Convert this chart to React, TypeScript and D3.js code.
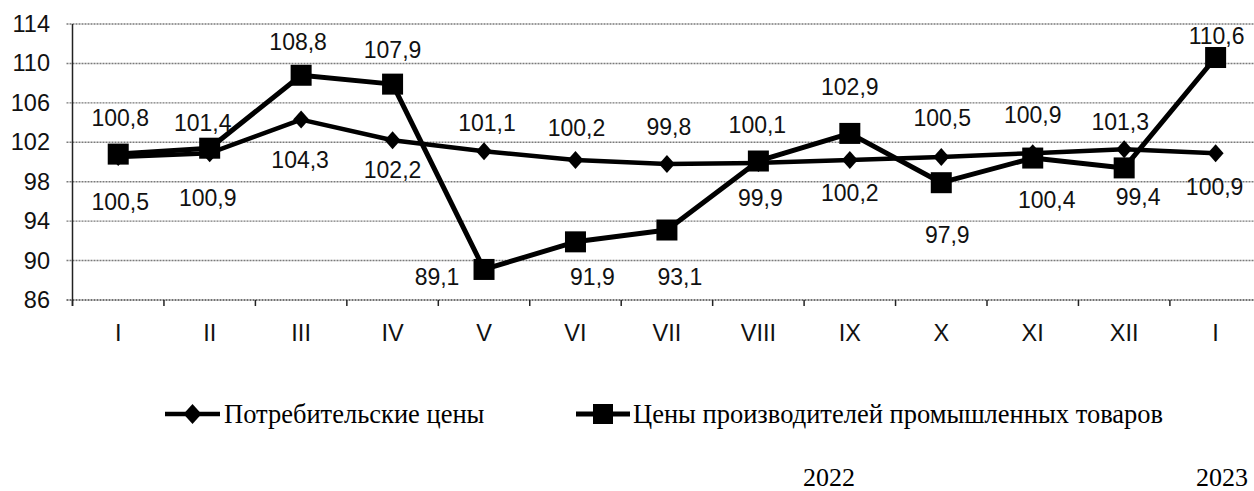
import React from "react";
import * as d3 from "d3";

// months (2022 I..XII, 2023 I)
const months = ["I", "II", "III", "IV", "V", "VI", "VII", "VIII", "IX", "X", "XI", "XII", "I"];
const consumer = [100.5, 100.9, 104.3, 102.2, 101.1, 100.2, 99.8, 99.9, 100.2, 100.5, 100.9, 101.3, 100.9];
const producer = [100.8, 101.4, 108.8, 107.9, 89.1, 91.9, 93.1, 100.1, 102.9, 97.9, 100.4, 99.4, 110.6];
const yTicks = [86, 90, 94, 98, 102, 106, 110, 114];
const seriesNames = ["Потребительские цены", "Цены производителей промышленных товаров"];
const years = ["2022", "2023"];

// label offsets (dx, dy) from the marker, as placed in the original
const consumerLabelOff = [[2, 45], [-2, 45], [-1, 40], [0, 30], [3, -28], [1, -32], [2, -37], [2, 35], [0, 33], [1, -39], [0, -38], [-4, -27], [-1, 34]];
const producerLabelOff = [[2, -36], [-7, -25], [-3, -33], [0, -34], [-47, 8], [17, 35], [13, 47], [-1, -36], [0, -46], [6, 52], [14, 42], [14, 29], [1, -22]];

const W = 1254;
const H = 491;
const left = 72.5;
const step = 91.45;
const top = 24;
const bottom = 300;

const sans = "'Liberation Sans', Arial, sans-serif";
const serif = "'Liberation Serif', 'Times New Roman', serif";

const fmt = (v: number) => v.toFixed(1).replace(".", ",");

function diamond(cx: number, cy: number, w: number, h: number) {
  return `M${cx},${cy - h} L${cx + w},${cy} L${cx},${cy + h} L${cx - w},${cy} Z`;
}

export default function App() {
  const x = d3.scaleBand<number>()
    .domain(months.map((_, i) => i))
    .range([left, left + step * months.length])
    .padding(0);
  const cx = (i: number) => (x(i) as number) + x.bandwidth() / 2;

  const y = d3.scaleLinear().domain([86, 114]).range([bottom, top]);

  const line = d3.line<number>()
    .x((_, i) => cx(i))
    .y(d => y(d));

  const boundaries = d3.range(months.length + 1).map(i => left + i * x.bandwidth());

  return (
    <svg width={W} height={H} style={{ position: "absolute", left: 0, top: 0, background: "#fff" }}>
      {/* gridlines */}
      {yTicks.map(t => (
        <g key={t}>
          <line x1={left - 6} x2={W} y1={y(t)} y2={y(t)}
            stroke={t === 86 ? "#444" : "#7a7a7a"} strokeWidth={1.4} strokeDasharray="2,1" />
          <text x={50} y={y(t)} textAnchor="end" dominantBaseline="central"
            fontFamily={sans} fontSize={23.5} fill="#111">{t}</text>
        </g>
      ))}
      {/* y axis */}
      <line x1={left} x2={left} y1={top} y2={bottom + 6} stroke="#222" strokeWidth={1.5} />
      {/* x ticks */}
      {boundaries.map((b, i) => (
        <line key={i} x1={b} x2={b} y1={bottom} y2={bottom + 6} stroke="#222" strokeWidth={1.5} />
      ))}
      {months.map((m, i) => (
        <text key={i} x={cx(i)} y={333} textAnchor="middle" dominantBaseline="central"
          fontFamily={sans} fontSize={23.5} fill="#111">{m}</text>
      ))}

      {/* consumer prices */}
      <path d={line(consumer) || ""} fill="none" stroke="#000" strokeWidth={4.5} strokeLinejoin="round" />
      {consumer.map((v, i) => (
        <path key={i} d={diamond(cx(i), y(v), 8, 9)} fill="#000" />
      ))}

      {/* producer prices */}
      <path d={line(producer) || ""} fill="none" stroke="#000" strokeWidth={5} strokeLinejoin="round" />
      {producer.map((v, i) => (
        <rect key={i} x={cx(i) - 10.5} y={y(v) - 10.5} width={21} height={21} fill="#000" />
      ))}

      {/* data labels */}
      {consumer.map((v, i) => (
        <text key={"c" + i} x={cx(i) + consumerLabelOff[i][0]} y={y(v) + consumerLabelOff[i][1]}
          textAnchor="middle" dominantBaseline="central" fontFamily={sans} fontSize={23} fill="#111">{fmt(v)}</text>
      ))}
      {producer.map((v, i) => (
        <text key={"p" + i} x={cx(i) + producerLabelOff[i][0]} y={y(v) + producerLabelOff[i][1]}
          textAnchor="middle" dominantBaseline="central" fontFamily={sans} fontSize={23} fill="#111">{fmt(v)}</text>
      ))}

      {/* legend */}
      <line x1={165} x2={220} y1={414} y2={414} stroke="#000" strokeWidth={4.5} />
      <path d={diamond(192.5, 414, 9, 10)} fill="#000" />
      <text x={224} y={423} fontFamily={serif} fontSize={26.5} fill="#000">{seriesNames[0]}</text>

      <line x1={576} x2={630} y1={414} y2={414} stroke="#000" strokeWidth={5} />
      <rect x={593} y={404} width={20} height={20} fill="#000" />
      <text x={633} y={423} fontFamily={serif} fontSize={26.5} fill="#000">{seriesNames[1]}</text>

      {/* years */}
      <text x={829} y={486} textAnchor="middle" fontFamily={serif} fontSize={26} fill="#000">{years[0]}</text>
      <text x={1222} y={486} textAnchor="middle" fontFamily={serif} fontSize={26} fill="#000">{years[1]}</text>
    </svg>
  );
}
